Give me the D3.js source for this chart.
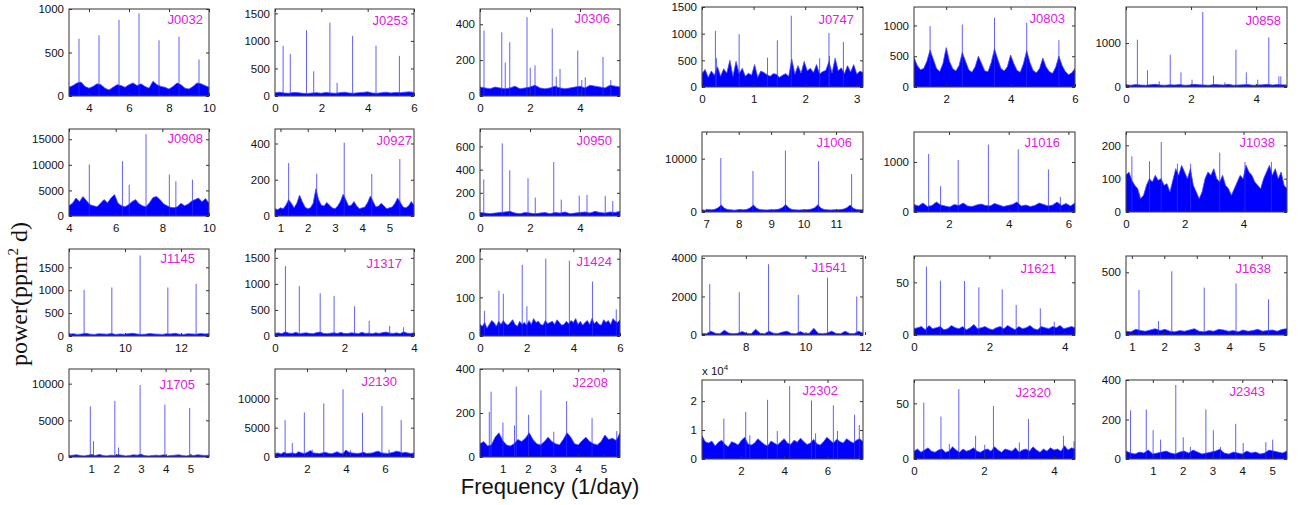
<!DOCTYPE html>
<html>
<head>
<meta charset="utf-8">
<script src="https://cdn.jsdelivr.net/npm/d3@7"></script>
<style>
body { margin: 0; background: #fff; }
svg text { font-family: "Liberation Sans", Arial, Helvetica, sans-serif; }
.tick text { font-size: 11.5px; fill: #111; }
</style>
</head>
<body>
<svg id="chart" width="1299" height="505"></svg>
<script>
// star names, row by row
const panelNames = ["J0032","J0253","J0306","J0747","J0803","J0858",
                    "J0908","J0927","J0950","J1006","J1016","J1038",
                    "J1145","J1317","J1424","J1541","J1621","J1638",
                    "J1705","J2130","J2208","J2302","J2320","J2343"];

// frequency range (1/day) and power maximum of each panel
const xRanges = [[3,10],[0,6],[0,5.6],[0,3.12],[1,6],[0,4.95],
                 [4,10],[0.8,5.9],[0,5.6],[6.87,11.83],[0.83,6.22],[0,5.48],
                 [8,13],[0,4],[0,6],[6.53,11.93],[0,4.27],[0.82,5.78],
                 [0.1,5.75],[0.35,7.5],[0.1,5.66],[0.2,7.64],[0,4.6],[0.1,5.5]];
const yMaxes = [1000,1580,485,1500,1300,1820,
                17000,480,750,15000,1600,240,
                1900,1670,225,4100,75,630,
                12000,15000,400,27300,71,400];

// tick labels
const xTickSets = [[4,6,8,10],[0,2,4,6],[0,2,4],[0,1,2,3],[2,4,6],[0,2,4],
                   [4,6,8,10],[1,2,3,4,5],[0,2,4],[7,8,9,10,11],[2,4,6],[0,2,4],
                   [8,10,12],[0,2,4],[0,2,4,6],[8,10,12],[0,2,4],[1,2,3,4,5],
                   [1,2,3,4,5],[2,4,6],[1,2,3,4,5],[2,4,6],[0,2,4],[1,2,3,4,5]];
const yTickSets = [[0,500,1000],[0,500,1000,1500],[0,200,400],[0,500,1000,1500],[0,500,1000],[0,1000],
                   [0,5000,10000,15000],[0,200,400],[0,200,400,600],[0,10000],[0,1000],[0,100,200],
                   [0,500,1000,1500],[0,500,1000,1500],[0,100,200],[0,2000,4000],[0,50],[0,500],
                   [0,5000,10000],[0,5000,10000],[0,200,400],[0,10000,20000],[0,50],[0,200,400]];
const yExponents = [0,0,0,0,0,0, 0,0,0,0,0,0, 0,0,0,0,0,0, 0,0,0,4,0,0];

// peaks: [frequency, power]
const J0032_peaks = [[3.5,659],[4.5,698],[5.5,876],[6.5,950],[7.5,640],[8.5,682],[9.5,419]];
const J0253_peaks = [[0.35,914],[0.66,765],[1.36,1195],[1.67,448],[2.37,1332],[2.68,239],[3.35,1093],[4.36,914],[5.37,729]];
const J0306_peaks = [[0.16,365],[0.87,355],[1.01,186],[1.19,300],[1.88,439],[2.01,158],[2.2,171],[2.89,376],[3.05,108],[3.2,151],[3.91,253],[4.07,89],[4.21,104],[4.92,218],[5.23,89]];
const J0747_peaks = [[0.26,1053],[0.28,540],[0.72,990],[1.27,550],[1.46,876],[1.73,1336],[2.28,540],[2.46,1015],[2.47,580],[2.74,845]];
const J0803_peaks = [[1.5,989],[2.5,1016],[3.5,1125],[4.5,1043],[5.5,761]];
const J0858_peaks = [[0.35,1076],[0.66,379],[1.02,129],[1.36,735],[1.69,333],[2.03,167],[2.36,1705],[2.69,258],[3.04,106],[3.38,848],[3.7,333],[4.05,167],[4.39,1129],[4.7,242],[4.76,242]];
const J0908_peaks = [[4.87,10066],[6.29,10720],[6.58,6118],[7.3,15990],[8.3,8092],[8.58,6776],[9.29,7105]];
const J0927_peaks = [[1.3,292],[2.33,234],[3.34,405],[4.35,232],[5.38,314]];
const J0950_peaks = [[0.15,315],[0.89,626],[1.19,394],[1.92,326],[2.21,159],[2.95,465],[3.25,141],[3.97,176],[4.28,182],[5.01,174],[5.31,129]];
const J1006_peaks = [[7.45,10123],[8.44,7669],[9.44,11534],[10.46,9509],[11.48,7117]];
const J1016_peaks = [[1.32,1161],[1.72,517],[2.31,1040],[3.32,1349],[4.32,1255],[5.33,852],[5.73,302]];
const J1038_peaks = [[0.2,167],[0.8,152],[1.2,210],[1.75,145],[2.2,145],[3.19,178],[4.05,150],[4.95,150]];
const J1145_peaks = [[8.54,1007],[9.53,1059],[10.54,1757],[11.53,1059],[12.54,1140]];
const J1317_peaks = [[0.3,1345],[0.7,957],[1.3,821],[1.7,770],[2.29,569],[2.71,291],[3.3,194],[3.7,168]];
const J1424_peaks = [[0.19,65],[0.81,117],[1.0,109],[1.81,184],[2.01,77],[2.82,200],[3.83,195],[4.82,141],[5.84,69]];
const J1541_peaks = [[6.79,2650],[7.78,2222],[8.76,3675],[9.76,2085],[10.74,2974],[11.72,2000]];
const J1621_peaks = [[0.33,64.9],[0.7,51.6],[1.34,51.3],[1.72,45.3],[2.34,43.4],[2.71,28.5],[3.35,25.3],[3.72,12.7]];
const J1638_peaks = [[1.22,359],[1.82,112],[2.23,508],[3.23,378],[4.21,411],[5.21,284]];
const J1705_peaks = [[0.96,6912],[1.09,2166],[1.95,7650],[2.1,1290],[2.97,9815],[3.97,7143],[4.97,6682]];
const J2130_peaks = [[0.87,6286],[1.24,2400],[1.86,7600],[2.26,1257],[2.86,9143],[3.85,11543],[4.23,1143],[4.85,7543],[5.85,8686],[6.22,1257],[6.84,6286]];
const J2208_peaks = [[0.47,205],[0.54,297],[1.01,157],[1.47,143],[1.54,320],[2.03,192],[2.52,303],[3.03,115],[3.54,254],[4.55,177],[5.53,118]];
const J2302_peaks = [[1.21,13977],[2.22,16250],[2.41,8180],[3.23,20454],[3.68,9660],[4.25,25227],[5.26,20227],[5.45,8860],[6.27,18520],[6.46,9660],[7.25,15340],[7.47,11700]];
const J2320_peaks = [[0.28,50.6],[0.77,38.1],[1.01,13.4],[1.28,62.8],[1.76,20.8],[2.02,12.8],[2.27,47.6],[3.01,14.9],[3.27,36],[4.27,20.8],[4.57,15.8]];
const J2343_peaks = [[0.25,246],[0.78,251],[1.01,146],[1.26,98],[1.77,375],[2.02,110],[2.26,61],[2.78,251],[3.03,146],[3.27,61],[3.78,178],[4.03,81],[4.79,85],[5.02,98]];

// noise floor readings, evenly spaced across each panel's frequency range
const J0032_noise = [100,120,150,160,110,90,110,140,130,90,70,100,130,120,100,130,150,120,140,110,90,170,130,110,100,80,110,150,130,90,80,110,150,140,120,100];
const J0253_noise = [60,70,55,50,65,60,50,45,55,60,50,65,55,50,60,70,55,50,60,65,75,55,50,60,70,55,65,60,70,75,65];
const J0306_noise = [50,45,40,50,45,40,45,55,40,45,50,60,45,40,45,55,45,40,45,50,55,45,60,55,50,45,60,55,50];
const J0747_noise = [250,330,180,300,220,380,200,340,260,500,200,480,250,350,200,260,220,420,180,300,270,230,200,250,240,180,220,250,200,520,240,400,260,480,300,350,270,420,240,290,310,480,260,540,300,360,250,400,280,420,240,300,270];
const J0803_noise = [480,350,280,300,420,600,450,300,250,380,640,420,300,260,350,560,420,280,240,330,500,380,260,250,400,620,450,300,260,330,520,380,270,240,380,590,400,270,230,300,470,330,250,220,320,500,350,250,200,230,300];
const J0858_noise = [50,40,55,45,40,50,60,45,40,50,45,55,40,45,60,50,45,40,55,50,45,60,40,45,50,55,40,45,50,60,45,55,50,45];
const J0908_noise = [2000,2500,3500,2800,3800,3000,2200,2000,1800,2500,3200,2600,3500,4200,2500,2000,1800,2200,2800,3200,2400,2000,1800,2600,3600,3800,3200,2400,2000,1700,1600,1800,2500,2000,2300,2900,3200,3500,2800,3400,2500];
const J0927_noise = [40,35,45,40,60,90,70,45,70,115,80,50,40,45,70,150,90,60,55,75,60,45,40,55,80,120,90,55,60,80,55,40,45,50,75,110,80,50,55,70,55,40,45,50,70,100,75,50,45,55,80,60];
const J0950_noise = [30,25,20,25,30,35,40,25,20,30,25,20,25,30,20,30,25,35,20,25,30,35,25,40,30,25,35,30,40];
const J1006_noise = [400,350,450,400,500,800,1300,700,450,400,350,400,450,400,500,800,1300,700,450,400,380,420,400,450,550,850,1400,750,450,400,380,400,420,450,550,800,1350,700,450,400,380,420,400,450,550,800,1300,700,450,400,420];
const J1016_noise = [150,120,180,110,130,200,140,120,100,150,130,180,120,110,140,160,130,120,170,140,110,130,150,200,120,140,110,130,180,150,120,140,200,130,170,120,180];
const J1038_noise = [110,120,95,80,70,40,50,80,100,90,110,95,100,80,85,60,95,130,110,140,120,100,130,80,60,40,60,100,120,110,130,100,90,110,80,70,50,70,90,110,100,140,120,110,90,80,70,100,120,140,110,130,100,120,80,70];
const J1145_noise = [40,50,35,45,60,40,35,50,45,40,55,35,45,40,50,60,45,35,40,55,45,40,35,50,45,60,40,35,50,45,40,55,45,50];
const J1317_noise = [50,60,45,80,55,50,70,45,55,60,50,45,65,75,50,45,55,60,50,70,45,50,60,55,45,70,50,55,45,60,50,65,75,55,50,60,45,80,55,50,60];
const J1424_noise = [30,25,35,20,30,40,35,25,38,30,40,32,28,35,42,30,25,38,30,35,28,40,30,45,35,38,30,28,40,32,35,38,30,42,35,28,30,38,32,40,35,45,30,38,28,35,40,30,45,32,38,30,28,42,35,40,30,45,38,35,42];
const J1541_noise = [80,70,200,90,70,250,100,70,90,180,80,70,300,90,70,200,90,80,150,200,80,70,180,80,90,350,90,70,100,200,80,70,200,80,70,200,90];
const J1621_noise = [6,7,8,5,9,6,7,8,5,6,9,7,6,8,5,7,10,6,7,8,6,5,7,8,6,9,7,5,8,6,7,9,6,5,8,7,6,8,7,9,6,7,8,7];
const J1638_noise = [30,25,45,35,30,40,50,35,45,30,25,35,30,40,50,30,25,35,30,45,40,30,35,25,40,30,35,45,30,35,40,30,45,50];
const J1705_noise = [200,250,300,200,150,250,300,200,350,200,150,250,200,300,250,150,200,300,250,350,200,150,200,250,200,300,150,200,250,300,200,150,250,200,300,250,200,250];
const J2130_noise = [600,700,500,800,600,650,700,550,900,700,600,800,1100,700,650,600,700,800,650,550,700,900,650,600,1200,800,700,650,600,700,800,600,650,700,900,1000,700,650,600,700,800,1000,900,700,800,700,600,700];
const J2208_noise = [60,70,50,55,90,110,75,55,50,60,80,70,85,110,80,60,55,70,90,70,60,55,80,110,90,60,55,75,90,70,60,55,70,100,80,85,75,110];
const J2302_noise = [8000,6000,5500,6200,4500,5800,6500,5000,4200,6000,5500,4800,6500,7500,5200,4800,5500,7000,6000,5000,4500,6200,5500,4800,6000,7000,5500,5000,6500,5800,7200,6000,5000,5500,6800,5200,4800,6000,7500,6500,5500,6800,6000,5500,7000,6200,5500,6500,7000,6000];
const J2320_noise = [7,9,6,8,10,7,6,8,9,6,7,11,8,6,9,7,8,10,7,6,8,9,7,11,8,6,9,8,7,10,6,8,9,7,11,8,6,9,7,10,8,9,7,12,8,10,9];
const J2343_noise = [40,30,25,35,30,45,25,30,35,40,30,25,35,40,30,45,35,25,30,35,40,50,30,25,35,30,25,40,30,35,25,30,45,40,35,30,40];

const peakSets = [J0032_peaks,J0253_peaks,J0306_peaks,J0747_peaks,J0803_peaks,J0858_peaks,
                  J0908_peaks,J0927_peaks,J0950_peaks,J1006_peaks,J1016_peaks,J1038_peaks,
                  J1145_peaks,J1317_peaks,J1424_peaks,J1541_peaks,J1621_peaks,J1638_peaks,
                  J1705_peaks,J2130_peaks,J2208_peaks,J2302_peaks,J2320_peaks,J2343_peaks];
const noiseSets = [J0032_noise,J0253_noise,J0306_noise,J0747_noise,J0803_noise,J0858_noise,
                   J0908_noise,J0927_noise,J0950_noise,J1006_noise,J1016_noise,J1038_noise,
                   J1145_noise,J1317_noise,J1424_noise,J1541_noise,J1621_noise,J1638_noise,
                   J1705_noise,J2130_noise,J2208_noise,J2302_noise,J2320_noise,J2343_noise];

// layout (pixels): two groups of three columns
const colsL = [[69,209],[275,414],[480,620]];
const colsR = [[702,863],[914,1075],[1126,1287]];
const rowsL = [[9,96],[129,216],[249,336],[369,457]];
const rowsR = [[7,87],[132,212],[256,335],[380,459]];
const labelPos = [[203,24],[408,25],[610,23],[854,24],[1065,23],[1281,25],
                  [203,143],[412,145],[612,145],[852,147],[1060,147],[1275,147],
                  [195,263],[402,268],[612,266],[847,272],[1056,273],[1271,273],
                  [195,389],[397,386],[608,387],[838,395],[1051,397],[1265,396]];

const svg = d3.select("#chart");
const defs = svg.append("defs");

panelNames.forEach(function (name, i) {
	const r = Math.floor(i / 6), c = i % 6;
	const cx = c < 3 ? colsL[c] : colsR[c - 3];
	const ry = c < 3 ? rowsL[r] : rowsR[r];
	const x0 = cx[0], x1 = cx[1], y0 = ry[0], y1 = ry[1];
	const xr = xRanges[i];

	let x = d3.scaleLinear().domain(xr).range([x0, x1]);
	let y = d3.scaleLinear().domain([0, yMaxes[i]]).range([y1, y0]);

	defs.append("clipPath").attr("id", "clip" + i)
		.append("rect").attr("x", x0).attr("y", y0).attr("width", x1 - x0).attr("height", y1 - y0);

	let g = svg.append("g");
	let plot = g.append("g").attr("clip-path", "url(#clip" + i + ")");

	// noise floor
	const noise = noiseSets[i];
	const step = (xr[1] - xr[0]) / (noise.length - 1);
	let area = d3.area()
		.x(function (d, k) { return x(xr[0] + k * step); })
		.y0(y(0))
		.y1(function (d) { return y(d); });
	plot.append("path")
		.datum(noise)
		.attr("d", area)
		.attr("fill", "#0000ff")
		.attr("stroke", "#4a4aff")
		.attr("stroke-width", 0.8);

	// periodogram peaks
	plot.selectAll("line.peak")
		.data(peakSets[i])
		.join("line")
		.attr("class", "peak")
		.attr("x1", function (d) { return x(d[0]); })
		.attr("x2", function (d) { return x(d[0]); })
		.attr("y1", y(0))
		.attr("y2", function (d) { return y(d[1]); })
		.attr("stroke", "#2b2bff")
		.attr("stroke-opacity", 0.75)
		.attr("stroke-width", 1);

	// axes, ticks pointing inward on all four sides
	const ex = Math.pow(10, yExponents[i]);
	g.append("g")
		.attr("transform", "translate(0," + y1 + ")")
		.style("color", "#333")
		.call(d3.axisBottom(x).tickValues(xTickSets[i]).tickSizeInner(-3).tickSizeOuter(0).tickPadding(8)
			.tickFormat(function (d) { return String(d); }))
		.call(function (a) { a.select(".domain").remove(); });
	g.append("g")
		.attr("transform", "translate(" + x0 + ",0)")
		.style("color", "#333")
		.call(d3.axisLeft(y).tickValues(yTickSets[i]).tickSizeInner(-3).tickSizeOuter(0).tickPadding(5)
			.tickFormat(function (d) { return String(d / ex); }))
		.call(function (a) { a.select(".domain").remove(); });
	g.append("g")
		.attr("transform", "translate(0," + y0 + ")")
		.style("color", "#333")
		.call(d3.axisTop(x).tickValues(xTickSets[i]).tickSizeInner(-3).tickSizeOuter(0).tickFormat(""))
		.call(function (a) { a.select(".domain").remove(); });
	g.append("g")
		.attr("transform", "translate(" + x1 + ",0)")
		.style("color", "#333")
		.call(d3.axisRight(y).tickValues(yTickSets[i]).tickSizeInner(-3).tickSizeOuter(0).tickFormat(""))
		.call(function (a) { a.select(".domain").remove(); });

	g.append("rect")
		.attr("x", x0).attr("y", y0)
		.attr("width", x1 - x0).attr("height", y1 - y0)
		.attr("fill", "none")
		.attr("stroke", "#333")
		.attr("stroke-width", 1);

	g.append("text")
		.attr("x", labelPos[i][0]).attr("y", labelPos[i][1])
		.attr("text-anchor", "end")
		.attr("fill", "#e020e0")
		.style("font-size", "13px")
		.text(name);

	if (yExponents[i]) {
		let t = g.append("text")
			.attr("x", x0).attr("y", y0 - 5)
			.attr("fill", "#111")
			.style("font-size", "11.5px");
		t.append("tspan").text("x 10");
		t.append("tspan").attr("dy", -5).style("font-size", "8px").text(yExponents[i]);
	}
});

// shared axis titles
let yl = svg.append("text")
	.attr("transform", "translate(27,294) rotate(-90)")
	.attr("text-anchor", "middle")
	.attr("fill", "#111")
	.style("font-family", "'Liberation Serif', 'Times New Roman', serif")
	.style("font-size", "24px");
yl.append("tspan").text("power(ppm");
yl.append("tspan").attr("dy", -9).style("font-size", "15px").text("2");
yl.append("tspan").attr("dy", 9).text(" d)");

svg.append("text")
	.attr("x", 550).attr("y", 494)
	.attr("text-anchor", "middle")
	.attr("fill", "#111")
	.style("font-size", "22px")
	.text("Frequency (1/day)");
</script>
</body>
</html>
